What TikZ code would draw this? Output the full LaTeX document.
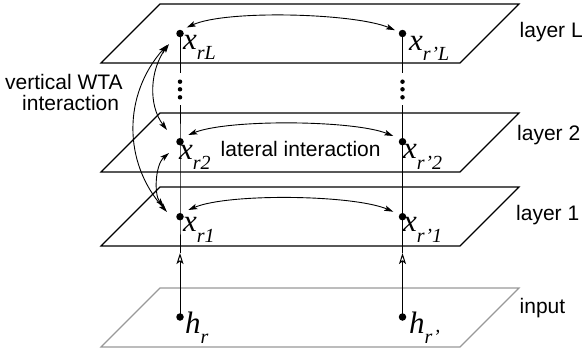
\documentclass[tikz,border=0pt]{standalone}
\usepackage{fontspec}
\setmainfont{Liberation Serif}
\setsansfont{Liberation Sans}
\usetikzlibrary{arrows.meta}
\newcommand\vlab[2]{{\itshape\fontsize{31}{31}\selectfont #1\raisebox{-10.5pt}{\fontsize{20}{20}\selectfont #2}}}
\begin{document}
\begin{tikzpicture}[x=1pt,y=-1pt,
  plane/.style={line width=1.2pt, fill=white, line join=miter},
  inplane/.style={plane, draw=black!40},
  dot/.style={circle, fill=black, inner sep=0pt, minimum size=7.5pt},
  vl/.style={line width=1pt},
  arr/.style={line width=0.9pt, {Stealth[length=9pt,width=5.5pt,inset=2pt]}-{Stealth[length=9pt,width=5.5pt,inset=2pt]}},
  openarr/.style={line width=1pt, -{Stealth[open,length=11pt,width=7pt,inset=2.5pt]}},
  mlab/.style={anchor=base west, inner sep=0pt},
  slab/.style={anchor=base west, inner sep=0pt, font=\sffamily\fontsize{21}{21}\selectfont},
  edot/.style={circle, fill=black, inner sep=0pt, minimum size=4.5pt}]
\useasboundingbox (0,0) rectangle (584,356);
% planes
\draw[plane] (101,63) -- (460,63) -- (519,4) -- (160,4) -- cycle;
\draw[plane] (101,172) -- (460,172) -- (519,113) -- (160,113) -- cycle;
\draw[plane] (101,246) -- (460,246) -- (519,187) -- (160,187) -- cycle;
\draw[inplane] (101,347) -- (460,347) -- (519,288) -- (160,288) -- cycle;
% units
\node[dot] (rL) at (180,33.5) {};
\node[dot] (r2) at (180,141.7) {};
\node[dot] (r1) at (180,216.7) {};
\node[dot] (hr) at (180,317) {};
\node[dot] (pL) at (402.5,33.5) {};
\node[dot] (p2) at (402.5,141.7) {};
\node[dot] (p1) at (402.5,216.7) {};
\node[dot] (hp) at (402.5,317) {};
% ellipsis
\coordinate (rLe) at (180,73);
\coordinate (r2e) at (180,105);
\coordinate (pLe) at (402.5,73);
\coordinate (p2e) at (402.5,105);
\node[edot] (d1) at (180,81.7) {};
\node[edot] (d2) at (180,89.3) {};
\node[edot] (d3) at (180,97.3) {};
\node[edot] (d4) at (402.5,81.7) {};
\node[edot] (d5) at (402.5,89.3) {};
\node[edot] (d6) at (402.5,97.3) {};
% vertical lines
\coordinate (ra) at (180,253);
\coordinate (pa) at (402.5,253);
\draw[vl] (rL.center) -- (rLe);
\draw[vl] (r2e) -- (r2.center) -- (r1.center) -- (ra);
\draw[openarr] (hr.center) -- (ra);
\draw[vl] (pL.center) -- (pLe);
\draw[vl] (p2e) -- (p2.center) -- (p1.center) -- (pa);
\draw[openarr] (hp.center) -- (pa);
% lateral interactions
\draw[arr] ([shift={(6.7,-6)}]rL.center) .. controls +(40,-18) and +(-40,-17) .. ([shift={(-7.5,-3.3)}]pL.center);
\draw[arr] ([shift={(8.3,-6.7)}]r2.center) .. controls +(40,-16) and +(-40,-16) .. ([shift={(-9.2,-5.7)}]p2.center);
\draw[arr] ([shift={(8.3,-6.7)}]r1.center) .. controls +(40,-17) and +(-40,-17) .. ([shift={(-9.2,-5)}]p1.center);
% vertical WTA interactions
\draw[arr] ([shift={(-13,11.5)}]rL.center) .. controls +(-44,50) and +(-44,-50) .. ([shift={(-13,-4.7)}]r1.center);
\draw[arr] ([shift={(-11,10.5)}]rL.center) .. controls +(-19,26) and +(-19,-25) .. ([shift={(-13,-11.7)}]r2.center);
\draw[arr] ([shift={(-11,11.3)}]r2.center) .. controls +(-14,12) and +(-10,-12) .. ([shift={(-16,-9.7)}]r1.center);
% unit labels
\node[mlab] (lrL) at (183,49) {\vlab{x}{rL}};
\node[mlab] (lpL) at (409,50) {\vlab{x}{r’L}};
\node[mlab] (lr2) at (179,159) {\vlab{x}{r2}};
\node[mlab] (lp2) at (403,158.5) {\vlab{x}{r’2}};
\node[mlab] (lr1) at (183,231.7) {\vlab{x}{r1}};
\node[mlab] (lp1) at (403,231.7) {\vlab{x}{r’1}};
\node[mlab] (lhr) at (185,333) {\vlab{h}{r}};
\node[mlab] (lhp) at (409,333) {\vlab{h}{r’}};
% text labels
\node[slab] (tL) at (519.5,37.3) {layer L};
\node[slab] (t2) at (517,140) {layer 2};
\node[slab] (t1) at (516,220.7) {layer 1};
\node[slab] (tin) at (519.5,313) {input};
\node[slab] (tlat) at (220.5,156.7) {lateral interaction};
\node[slab] (tv1) at (5,89) {vertical WTA};
\node[slab] (tv2) at (22,110.5) {interaction};
\end{tikzpicture}
\end{document}
